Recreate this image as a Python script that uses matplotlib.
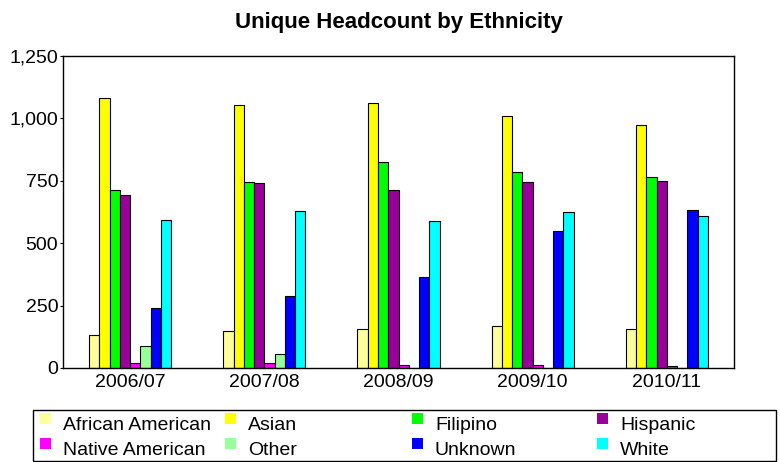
import matplotlib
matplotlib.use("Agg")
import matplotlib.pyplot as plt
from matplotlib.patches import Rectangle
from matplotlib.ticker import FuncFormatter
import numpy as np

plt.rcParams['font.family'] = ['Liberation Sans', 'DejaVu Sans']

years = ["2006/07", "2007/08", "2008/09", "2009/10", "2010/11"]
ethnicities = ["African American", "Asian", "Filipino", "Hispanic",
               "Native American", "Other", "Unknown", "White"]
african_american = [131, 147, 156, 170, 155]
asian = [1080, 1055, 1062, 1010, 972]
filipino = [714, 747, 827, 785, 765]
hispanic = [693, 743, 714, 747, 749]
native_american = [19, 19, 13, 13, 9]
other = [88, 56, 0, 0, 0]
unknown = [239, 288, 366, 548, 632]
white = [593, 630, 590, 626, 608]
series = [african_american, asian, filipino, hispanic,
          native_american, other, unknown, white]
colors = ["#FFFF99", "#FFFF00", "#00FF00", "#990099",
          "#FF00FF", "#99FF99", "#0000FF", "#00FFFF"]
yticks = [0, 250, 500, 750, 1000, 1250]

W, H = 780, 462
fig = plt.figure(figsize=(W / 100, H / 100), dpi=100)
ax = fig.add_axes([63 / W, 1 - 368 / H, (734 - 63) / W, (368 - 56) / H])

x = np.arange(len(years))
bw = 0.0765
n = len(series)
for i, (vals, col) in enumerate(zip(series, colors)):
    pos = x + (i - (n - 1) / 2) * bw
    ax.bar(pos, vals, width=bw, color=col, edgecolor="black", linewidth=0.8,
           label=ethnicities[i], zorder=2)

ax.set_xlim(-0.5, len(years) - 0.5)
ax.set_ylim(0, 1250)
ax.set_yticks(yticks)
ax.yaxis.set_major_formatter(FuncFormatter(lambda v, p: f"{int(v):,}"))
ax.set_xticks(x)
ax.set_xticklabels(years)
ax.tick_params(axis="x", length=0, pad=4, labelsize=14)
ax.tick_params(axis="y", length=2.5, width=0.8, pad=1, labelsize=14)
for s in ax.spines.values():
    s.set_linewidth(1.0)
    s.set_color("black")

ax.set_title("Unique Headcount by Ethnicity", fontsize=16, fontweight="bold", pad=20)

# Legend drawn in figure pixel coordinates (4 columns x 2 rows, row-wise order)
def fx(px):
    return px / W

def fy(py):
    return 1 - py / H

fig.patches.append(Rectangle((fx(33), fy(461)), fx(776) - fx(33), fy(410) - fy(461),
                             transform=fig.transFigure, fill=False,
                             edgecolor="black", linewidth=1.0))
col_x = [39.5, 225, 412, 597]
row_top = [413, 438]
row_base = [430, 455]
for k, (name, col) in enumerate(zip(ethnicities, colors)):
    r, c = divmod(k, 4)
    fig.patches.append(Rectangle((fx(col_x[c]), fy(row_top[r] + 11)), 11 / W, 11 / H,
                                 transform=fig.transFigure, facecolor=col,
                                 edgecolor="none"))
    fig.text(fx(col_x[c] + 23), fy(row_base[r]), name, fontsize=14,
             va="baseline", ha="left")

fig.savefig("out.png", dpi=100)
